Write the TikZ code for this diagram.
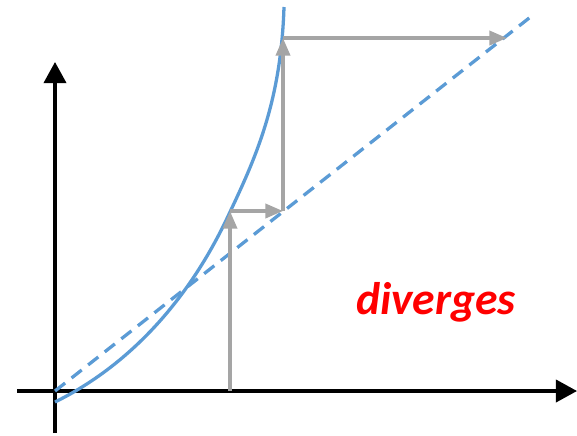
\documentclass[tikz,border=0pt]{standalone}
\usepackage{fontspec}
\setsansfont{Carlito}
\usetikzlibrary{arrows.meta}
\definecolor{curveblue}{HTML}{5B9BD5}
\definecolor{stepgray}{HTML}{A5A5A5}
\begin{document}
\begin{tikzpicture}[x=0.03cm, y=-0.03cm,
    axis/.style={line width=2.6pt, -{Triangle[length=18pt, width=19pt]}},
    stepline/.style={stepgray, line width=2.9pt, -{Triangle[length=15pt, width=12pt]}},
    curve/.style={curveblue, line width=2.8pt}]
    \useasboundingbox (0,0) rectangle (577,435);

    % Achsen
    \coordinate (xl) at (17,391);
    \coordinate (xr) at (577,391);
    \coordinate (yb) at (55,433);
    \coordinate (yt) at (55,62);
    \draw[axis] (xl) -- (xr);
    \draw[axis] (yb) -- (yt);

    % Gerade y = x
    \coordinate (O) at (55,391);
    \coordinate (E) at (533,15);
    \draw[curve, dash pattern=on 11pt off 7pt] (O) -- (E);

    % Kurve
    \coordinate (c0) at (55,402);
    \coordinate (c1) at (230,212);
    \coordinate (c2) at (284,7);
    \draw[curve] (c0) .. controls (120,370) and (185,310) .. (c1)
                      .. controls (257,155) and (281,100) .. (c2);

    % Iteration
    \coordinate (x0) at (230,391);
    \coordinate (p0) at (230,211);
    \coordinate (q0) at (283,211);
    \coordinate (p1) at (283,38);
    \coordinate (q1) at (507,38);
    \draw[stepline] (x0) -- (p0);
    \draw[stepline] (p0) -- (q0);
    \draw[stepline] (q0) -- (p1);
    \draw[stepline] (p1) -- (q1);

    \node[text=red, inner sep=0pt, font=\sffamily\bfseries\itshape\fontsize{39}{42}\selectfont] (lbl) at (436,302) {diverges};
\end{tikzpicture}
\end{document}
